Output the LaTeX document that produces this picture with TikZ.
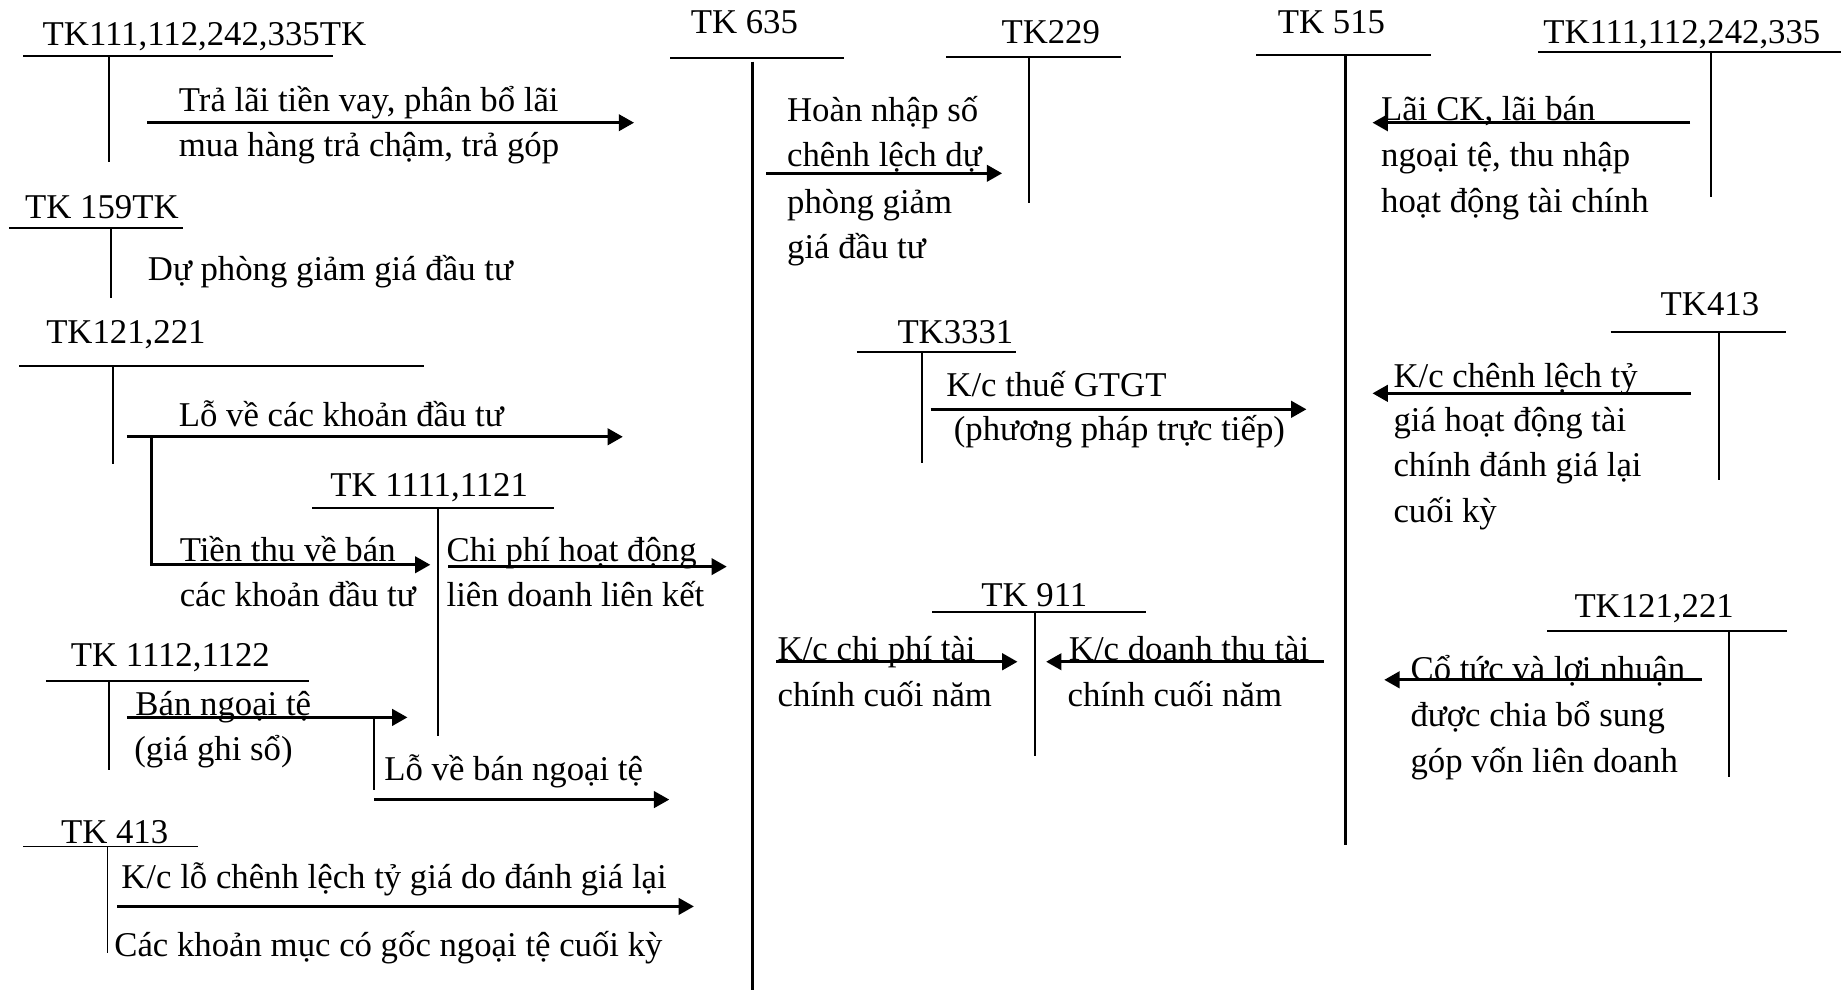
\documentclass[tikz,border=0pt]{standalone}
\usepackage{fontspec}
\setmainfont{Liberation Serif}
\usetikzlibrary{arrows.meta}
\tikzset{
  tline/.style={line width=0.8pt},
  flow/.style={line width=1.2pt,-{Triangle[length=6.5pt,width=7pt]}},
  plain/.style={line width=1.2pt},
  lbl/.style={anchor=base west,inner sep=0pt,yshift=-0.8pt,font=\fontsize{14.8}{19}\selectfont},
}
\begin{document}
\begin{tikzpicture}[x=0.5pt,y=-0.5pt]
\fill[white] (0,0) rectangle (1568,843);
\useasboundingbox (0,0) rectangle (1568,843);

% ---------------- left column ----------------
% TK111,112,242,335TK
\node[lbl] (hA) at (36,37) {TK111,112,242,335TK};
\draw[tline] (20,48) -- (284,48);
\draw[tline] (93,48) -- (93,138);
\node[lbl] (lA1) at (152,93.7) {Trả lãi tiền vay, phân bổ lãi};
\node[lbl] (lA2) at (152,132) {mua hàng trả chậm, trả góp};
\coordinate (aAs) at (125.6,104.5); \coordinate (aAe) at (540,104.5);
\draw[flow] (aAs) -- (aAe);

% TK 159TK
\node[lbl] (hB) at (21,184.5) {TK 159TK};
\draw[tline] (7.6,194) -- (156,194);
\draw[tline] (94.5,194) -- (94.5,254);
\node[lbl] (lB1) at (125.6,237) {Dự phòng giảm giá đầu tư};

% TK121,221 (left)
\node[lbl] (hC) at (39,291) {TK121,221};
\draw[tline] (16.5,312) -- (361,312);
\draw[tline] (96.6,312) -- (96.6,395);
\node[lbl] (lC1) at (152,362) {Lỗ về các khoản đầu tư};
\coordinate (aCs) at (108,372); \coordinate (aCe) at (530.5,372);
\draw[flow] (aCs) -- (aCe);
\node[lbl] (lC2) at (152.7,477) {Tiền thu về bán};
\node[lbl] (lC3) at (152.7,515) {các khoản đầu tư};
\coordinate (bCs) at (129,372); \coordinate (bCk) at (129,481); \coordinate (bCe) at (366.5,481);
\draw[flow] (bCs) -- (bCk) -- (bCe);

% TK 1111,1121
\node[lbl] (hD) at (281,421.6) {TK 1111,1121};
\draw[tline] (266,433) -- (472,433);
\draw[tline] (372.8,433) -- (372.8,627);
\node[lbl] (lD1) at (380,477) {Chi phí hoạt động};
\node[lbl] (lD2) at (380,515) {liên doanh liên kết};
\coordinate (aDs) at (381.8,482.6); \coordinate (aDe) at (619,482.6);
\draw[flow] (aDs) -- (aDe);

% TK 1112,1122
\node[lbl] (hE) at (60,566) {TK 1112,1122};
\draw[tline] (39,580) -- (263,580);
\draw[tline] (93,580) -- (93,656);
\node[lbl] (lE1) at (115,608) {Bán ngoại tệ};
\node[lbl] (lE2) at (114,646) {(giá ghi sổ)};
\coordinate (aEs) at (108,611); \coordinate (aEe) at (347,611);
\draw[flow] (aEs) -- (aEe);
\coordinate (bEs) at (318.7,611); \coordinate (bEk) at (318.7,673);
\draw[tline] (bEs) -- (bEk);
\node[lbl] (lE3) at (327,663) {Lỗ về bán ngoại tệ};
\coordinate (cEs) at (318.7,681); \coordinate (cEe) at (570,681);
\draw[flow] (cEs) -- (cEe);

% TK 413 (left)
\node[lbl] (hF) at (51.6,717) {TK 413};
\draw[tline] (19.8,721) -- (168.5,721);
\draw[tline] (91.6,721) -- (91.6,812);
\node[lbl] (lF1) at (103,755) {K/c lỗ chênh lệch tỷ giá do đánh giá lại};
\node[lbl] (lF2) at (97,813) {Các khoản mục có gốc ngoại tệ cuối kỳ};
\coordinate (aFs) at (100,772); \coordinate (aFe) at (591,772);
\draw[flow] (aFs) -- (aFe);

% ---------------- middle ----------------
% TK 635
\node[lbl] (hG) at (588,27) {TK 635};
\draw[tline] (571,49.7) -- (719,49.7);
\draw[plain] (641,52.5) -- (641,843);

% TK229
\node[lbl] (hH) at (852.6,35.5) {TK229};
\draw[tline] (806,48.3) -- (955,48.3);
\draw[tline] (876.4,48.3) -- (876.4,173);
\node[lbl] (lH1) at (670,102) {Hoàn nhập số};
\node[lbl] (lH2) at (670,140.5) {chênh lệch dự};
\node[lbl] (lH3) at (670,180) {phòng giảm};
\node[lbl] (lH4) at (670,218.6) {giá đầu tư};
\coordinate (aHs) at (652.5,147.6); \coordinate (aHe) at (853.5,147.6);
\draw[flow] (aHs) -- (aHe);

% TK3331
\node[lbl] (hI) at (764,291) {TK3331};
\draw[tline] (729.7,299.5) -- (865.6,299.5);
\draw[tline] (785,299.5) -- (785,394.6);
\node[lbl] (lI1) at (805.7,336.4) {K/c thuế GTGT};
\node[lbl] (lI2) at (812,373.3) {(phương pháp trực tiếp)};
\coordinate (aIs) at (792.6,348.6); \coordinate (aIe) at (1112.7,348.6);
\draw[flow] (aIs) -- (aIe);

% TK 911
\node[lbl] (hJ) at (835.5,515) {TK 911};
\draw[tline] (794,521) -- (976,521);
\draw[tline] (881.3,521) -- (881.3,644);
\node[lbl] (lJ1) at (662,560.7) {K/c chi phí tài};
\node[lbl] (lJ2) at (662,600.5) {chính cuối năm};
\node[lbl] (lJ3) at (910,560.7) {K/c doanh thu tài};
\node[lbl] (lJ4) at (909,600.5) {chính cuối năm};
\coordinate (aJs) at (661.3,563.6); \coordinate (aJe) at (866.6,563.6);
\draw[flow] (aJs) -- (aJe);
\coordinate (bJs) at (1127.3,563.6); \coordinate (bJe) at (891,563.6);
\draw[flow] (bJs) -- (bJe);

% TK 515
\node[lbl] (hK) at (1088,27) {TK 515};
\draw[tline] (1070,46.8) -- (1219,46.8);
\draw[plain] (1146.3,46.8) -- (1146.3,720);

% ---------------- right column ----------------
% TK111,112,242,335 (right)
\node[lbl] (hL) at (1314,35.5) {TK111,112,242,335};
\draw[tline] (1310,44) -- (1568,44);
\draw[tline] (1457,44) -- (1457,167.5);
\node[lbl] (lL1) at (1176,100.8) {Lãi CK, lãi bán};
\node[lbl] (lL2) at (1176,140.5) {ngoại tệ, thu nhập};
\node[lbl] (lL3) at (1176,179) {hoạt động tài chính};
\coordinate (aLs) at (1439.4,104.5); \coordinate (aLe) at (1169,104.5);
\draw[flow] (aLs) -- (aLe);

% TK413 (right)
\node[lbl] (hM) at (1414,266.9) {TK413};
\draw[tline] (1371.8,283) -- (1521,283);
\draw[tline] (1464,283) -- (1464,409);
\node[lbl] (lM1) at (1186.5,328) {K/c chênh lệch tỷ};
\node[lbl] (lM2) at (1186.5,366) {giá hoạt động tài};
\node[lbl] (lM3) at (1186.5,404.6) {chính đánh giá lại};
\node[lbl] (lM4) at (1186.5,443) {cuối kỳ};
\coordinate (aMs) at (1440,335); \coordinate (aMe) at (1169,335);
\draw[flow] (aMs) -- (aMe);

% TK121,221 (right)
\node[lbl] (hN) at (1340.6,524) {TK121,221};
\draw[tline] (1318,537.4) -- (1521.6,537.4);
\draw[tline] (1472.5,537.4) -- (1472.5,661.5);
\node[lbl] (lN1) at (1201,577.6) {Cổ tức và lợi nhuận};
\node[lbl] (lN2) at (1201,617.5) {được chia bổ sung};
\node[lbl] (lN3) at (1201,656) {góp vốn liên doanh};
\coordinate (aNs) at (1449.6,579); \coordinate (aNe) at (1179,579);
\draw[flow] (aNs) -- (aNe);
\end{tikzpicture}
\end{document}
